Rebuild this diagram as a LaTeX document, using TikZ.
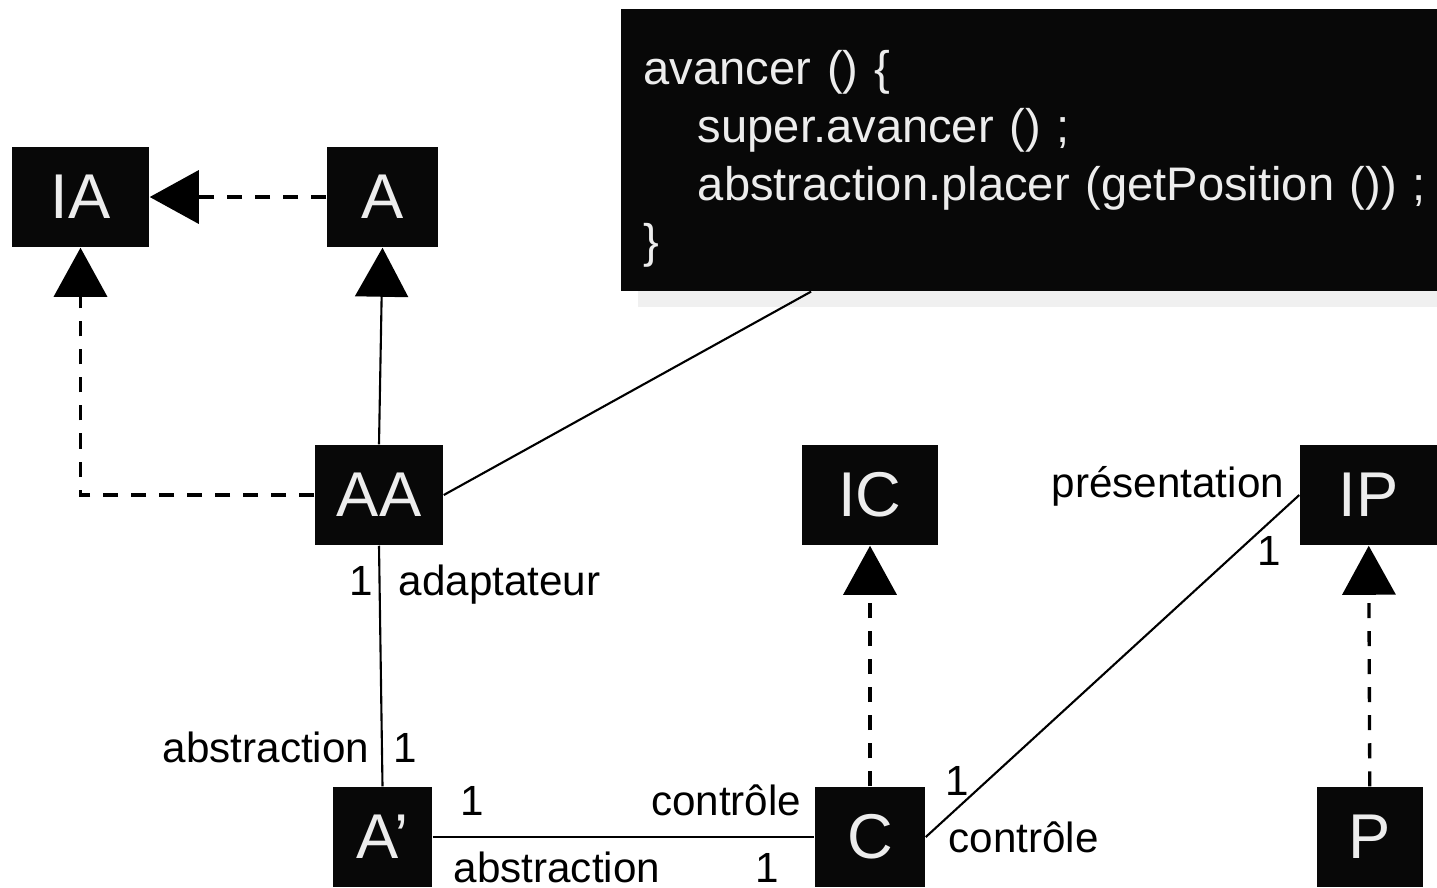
\documentclass[tikz,border=0pt]{standalone}
\usepackage{fontspec}
\setmainfont{Liberation Sans}
\usetikzlibrary{arrows.meta,shadows}

\tikzset{
  classe/.style={fill=black!97, text=black!7, font=\fontsize{18}{20}\selectfont,
    minimum height=1cm, inner sep=0pt},
  note/.style={fill=black!97, text=black!7, font=\fontsize{13.4}{16.4}\selectfont,
    text width=7.71cm, align=left, inner xsep=0.23cm, minimum height=2.82cm,
    drop shadow={shadow xshift=0.17cm, shadow yshift=-0.16cm, fill=black!6, opacity=1}},
  lien/.style={line width=0.6pt},
  herite/.style={line width=0.6pt, -{Triangle[length=4.9mm,width=5.3mm]}},
  realise/.style={line width=0.95pt, dash pattern=on 4.27pt off 3.7pt,
    -{Triangle[length=4.9mm,width=5.3mm]}},
  role/.style={font=\fontsize{12}{14}\selectfont, inner sep=0pt}
}

\begin{document}
\begin{tikzpicture}[x=0.01cm, y=-0.01cm]
  \useasboundingbox (0,0) rectangle (1437,887);

  % classes
  \node[classe, minimum width=1.37cm] (IA) at (80.5,197) {IA};
  \node[classe, minimum width=1.11cm] (A) at (382.5,197) {A};
  \node[classe, minimum width=1.28cm] (AA) at (379,495) {AA};
  \node[classe, minimum width=1.36cm] (IC) at (870,495) {IC};
  \node[classe, minimum width=1.37cm] (IP) at (1368.5,495) {IP};
  \node[classe, minimum width=0.99cm] (Ap) at (382.5,837) {A’};
  \node[classe, minimum width=1.10cm] (C) at (870,837) {C};
  \node[classe, minimum width=1.06cm] (P) at (1370,837) {P};

  % la note
  \node[note, anchor=north west] (code) at (620,8) {\rule{0pt}{15pt}avancer () \{\\
    \hspace*{15.4pt}super.avancer () ;\\
    \hspace*{15.4pt}\mbox{abstraction.placer (getPosition ()) ;}\\
    \}};

  % liens
  \draw[realise] (A) -- (IA);
  \draw[realise] (AA) -| (IA);
  \draw[herite] (AA.north) -- (A.south);
  \draw[lien] (AA.east) -- (code.213);
  \draw[lien] (AA.south) -- (Ap.north);
  \draw[lien] (Ap) -- (C);
  \draw[lien] (C.east) -- (IP.west);
  \draw[realise] (C) -- (IC);
  \draw[realise] (P) -- (IP);

  % roles
  \node[role, anchor=base east] (r1) at (374,595) {1};
  \node[role, anchor=base west] (r2) at (398,595) {adaptateur};
  \node[role, anchor=base east] (r3) at (370,762) {abstraction};
  \node[role, anchor=base west] (r4) at (393,762) {1};
  \node[role, anchor=base west] (r5) at (460,815) {1};
  \node[role, anchor=base east] (r6) at (802,815) {contrôle};
  \node[role, anchor=base west] (r7) at (453,882) {abstraction};
  \node[role, anchor=base west] (r8) at (755,882) {1};
  \node[role, anchor=base west] (r9) at (945,795) {1};
  \node[role, anchor=base west] (r10) at (948,852) {contrôle};
  \node[role, anchor=base west] (r11) at (1051,497) {présentation};
  \node[role, anchor=base west] (r12) at (1257,565) {1};
\end{tikzpicture}
\end{document}
